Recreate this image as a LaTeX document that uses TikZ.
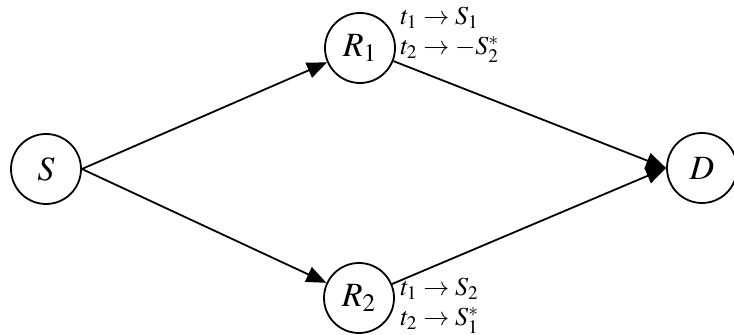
\documentclass[tikz,border=0pt]{standalone}
\usepackage{mathptmx}
\usetikzlibrary{arrows.meta,positioning}

\begin{document}
\begin{tikzpicture}[x=0.5pt,y=-0.5pt,
  every node/.style={font=\fontsize{17}{19}\selectfont},
  relay/.style={draw, circle, line width=0.9pt, minimum size=35pt, inner sep=0pt},
  arr/.style={-{Triangle[length=10pt,width=8pt]}, line width=0.9pt},
  lbl/.style={font=\fontsize{13}{15}\selectfont, align=left, anchor=west, inner sep=0pt}
]
\useasboundingbox (0,0) rectangle (734,335);

% Nodes
\node[relay] (S)  at (46,169)  {$S$};
\node[relay] (R1) at (360,48)  {$R_1$};
\node[relay] (R2) at (359,298) {$R_2$};
\node[relay] (D)  at (702,168) {$D$};

% Links
\draw[arr] (S.east) -- (R1);
\draw[arr] (S.east) -- (R2);
\draw[arr] (R1) -- (D.west);
\draw[arr] (R2) -- (D.west);

% Relay transmissions
\node[lbl] (tR1) at (400,35)  {$t_1\rightarrow S_1$\\$t_2\rightarrow -S_2^*$};
\node[lbl] (tR2) at (400,306) {$t_1\rightarrow S_2$\\$t_2\rightarrow S_1^*$};
\end{tikzpicture}
\end{document}
